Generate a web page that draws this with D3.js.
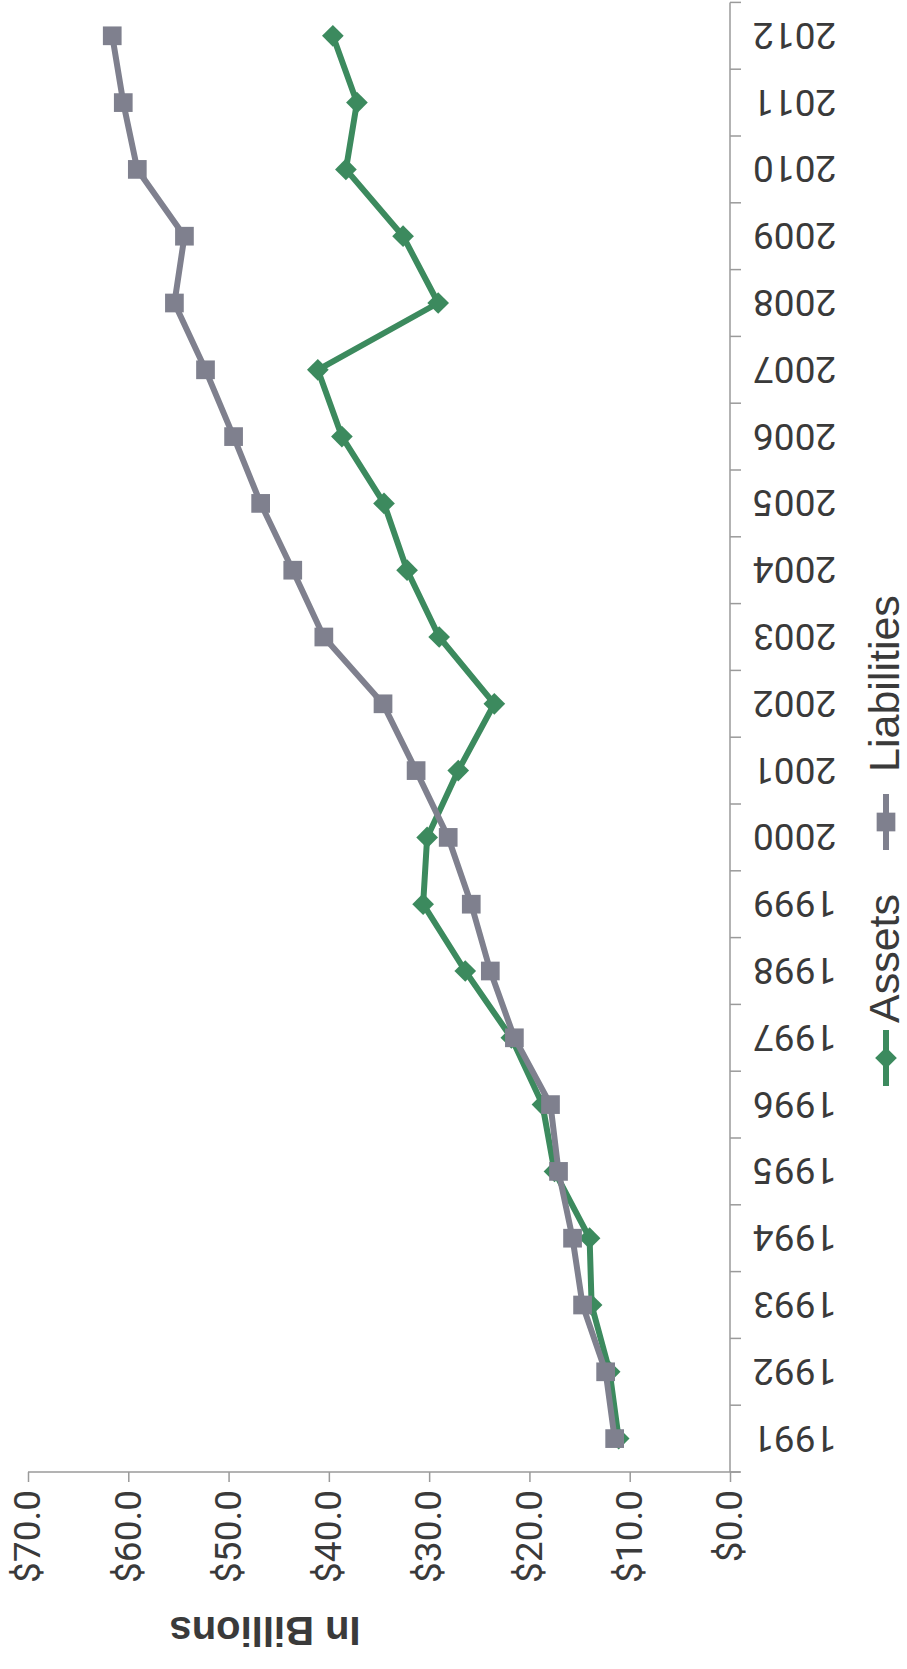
<!DOCTYPE html>
<html>
<head>
<meta charset="utf-8">
<script src="https://cdn.jsdelivr.net/npm/d3@7"></script>
<style>
  body { margin: 0; background: #fff; }
  svg { display: block; }
</style>
</head>
<body>
<svg id="svgChart" width="907" height="1669"></svg>
<script>
// chart data
var years = ["1991","1992","1993","1994","1995","1996","1997","1998","1999","2000","2001",
             "2002","2003","2004","2005","2006","2007","2008","2009","2010","2011","2012"];
var assets = [11.1, 12.0, 13.8, 14.0, 17.5, 18.7, 21.8, 26.4, 30.6, 30.2, 27.1,
              23.5, 29.0, 32.2, 34.5, 38.7, 41.1, 29.1, 32.6, 38.3, 37.2, 39.6];
var liabilities = [11.5, 12.4, 14.7, 15.7, 17.1, 17.9, 21.5, 23.9, 25.8, 28.1, 31.3,
                   34.6, 40.5, 43.6, 46.8, 49.5, 52.3, 55.4, 54.4, 59.1, 60.5, 61.6];
var valueTicks = [0, 10, 20, 30, 40, 50, 60, 70];
var seriesNames = ["Assets", "Liabilities"];

var green = "#3c8a5e", grey = "#7f808e", axisCol = "#9a9a9a", textCol = "#3a3a3a";
var font = "'Liberation Sans', Arial, sans-serif";
var numFont = "Roboto, 'Liberation Sans', Arial, sans-serif";

var svg = d3.select("#svgChart");
// the scanned chart lies on its side: draw it landscape (1669 x 907) and turn it
var W = 1669;
var g = svg.append("g").attr("transform", "translate(0," + W + ") rotate(-90)");

var plot = {left: 197, right: 1666.6, top: 28, bottom: 730};

var x = d3.scaleBand().domain(years).range([plot.left, plot.right]).padding(0);
var y = d3.scaleLinear().domain([0, 70]).range([plot.bottom, plot.top]);

// value axis
var yAxis = g.append("g")
    .attr("transform", "translate(" + plot.left + ",0)")
    .call(d3.axisLeft(y).tickValues(valueTicks)
            .tickFormat(function(d) { return "$" + d.toFixed(1); })
            .tickSize(10).tickPadding(8).tickSizeOuter(0));
yAxis.select(".domain").attr("stroke", axisCol).attr("stroke-width", 1.5)
    .attr("d", "M0," + plot.top + "V" + (plot.bottom + 10));
yAxis.selectAll(".tick line").attr("stroke", axisCol).attr("stroke-width", 1.5);
yAxis.selectAll("text")
    .attr("fill", textCol)
    .style("font-family", numFont)
    .style("font-size", "37px");

// category axis
var xAxis = g.append("g")
    .attr("transform", "translate(0," + plot.bottom + ")")
    .call(d3.axisBottom(x).tickSize(0).tickSizeOuter(0));
xAxis.select(".domain").attr("stroke", axisCol).attr("stroke-width", 1.5)
    .attr("d", "M" + plot.left + ",0H" + plot.right);
xAxis.selectAll("text")
    .attr("transform", "rotate(-90)")
    .attr("x", -23)
    .attr("y", 0)
    .attr("dy", "0.35em")
    .attr("text-anchor", "end")
    .attr("fill", textCol)
    .style("font-family", numFont)
    .style("font-size", "37px");

// tick marks sit between the categories
var bounds = years.map(function(d) { return x(d); }).concat([x(years[years.length - 1]) + x.step()]);
xAxis.selectAll(".bound")
    .data(bounds)
  .enter().append("line")
    .attr("class", "bound")
    .attr("x1", function(d) { return d; })
    .attr("x2", function(d) { return d; })
    .attr("y1", 0)
    .attr("y2", 11)
    .attr("stroke", axisCol)
    .attr("stroke-width", 1.5);

// axis title
g.append("text")
    .attr("transform", "translate(38,265) rotate(-90)")
    .attr("text-anchor", "middle")
    .attr("dominant-baseline", "central")
    .attr("fill", textCol)
    .style("font-family", font)
    .style("font-size", "40px")
    .style("font-weight", "bold")
    .text("In Billions");

var line = d3.line()
    .x(function(d, i) { return x(years[i]) + x.bandwidth() / 2; })
    .y(function(d) { return y(d); });

var diamond = d3.symbol().type(d3.symbolDiamond2).size(300);
var square = d3.symbol().type(d3.symbolSquare).size(350);

// assets
g.append("path")
    .datum(assets)
    .attr("fill", "none")
    .attr("stroke", green)
    .attr("stroke-width", 6)
    .attr("stroke-linejoin", "round")
    .attr("d", line);
g.selectAll(".assetPt")
    .data(assets)
  .enter().append("path")
    .attr("class", "assetPt")
    .attr("transform", function(d, i) {
      return "translate(" + (x(years[i]) + x.bandwidth() / 2) + "," + y(d) + ") rotate(90)";
    })
    .attr("d", diamond)
    .attr("fill", green);

// liabilities
g.append("path")
    .datum(liabilities)
    .attr("fill", "none")
    .attr("stroke", grey)
    .attr("stroke-width", 6)
    .attr("stroke-linejoin", "round")
    .attr("d", line);
g.selectAll(".liabPt")
    .data(liabilities)
  .enter().append("path")
    .attr("class", "liabPt")
    .attr("transform", function(d, i) {
      return "translate(" + (x(years[i]) + x.bandwidth() / 2) + "," + y(d) + ")";
    })
    .attr("d", square)
    .attr("fill", grey);

// legend
var legendItems = [
  {name: seriesNames[0], cx: 611, color: green, sym: diamond, rot: 90},
  {name: seriesNames[1], cx: 847, color: grey, sym: square, rot: 0}
];
var leg = g.selectAll(".legend")
    .data(legendItems)
  .enter().append("g")
    .attr("class", "legend")
    .attr("transform", function(d) { return "translate(" + d.cx + ",886)"; });
leg.append("line")
    .attr("x1", -28).attr("x2", 28)
    .attr("stroke", function(d) { return d.color; })
    .attr("stroke-width", 6);
leg.append("path")
    .attr("d", function(d) { return d.sym(); })
    .attr("transform", function(d) { return "rotate(" + d.rot + ")"; })
    .attr("fill", function(d) { return d.color; });
leg.append("text")
    .attr("x", function(d, i) { return i === 0 ? 35 : 50; })
    .attr("y", 13)
    .attr("fill", textCol)
    .style("font-family", font)
    .style("font-size", "43px")
    .text(function(d) { return d.name; });
</script>
</body>
</html>
